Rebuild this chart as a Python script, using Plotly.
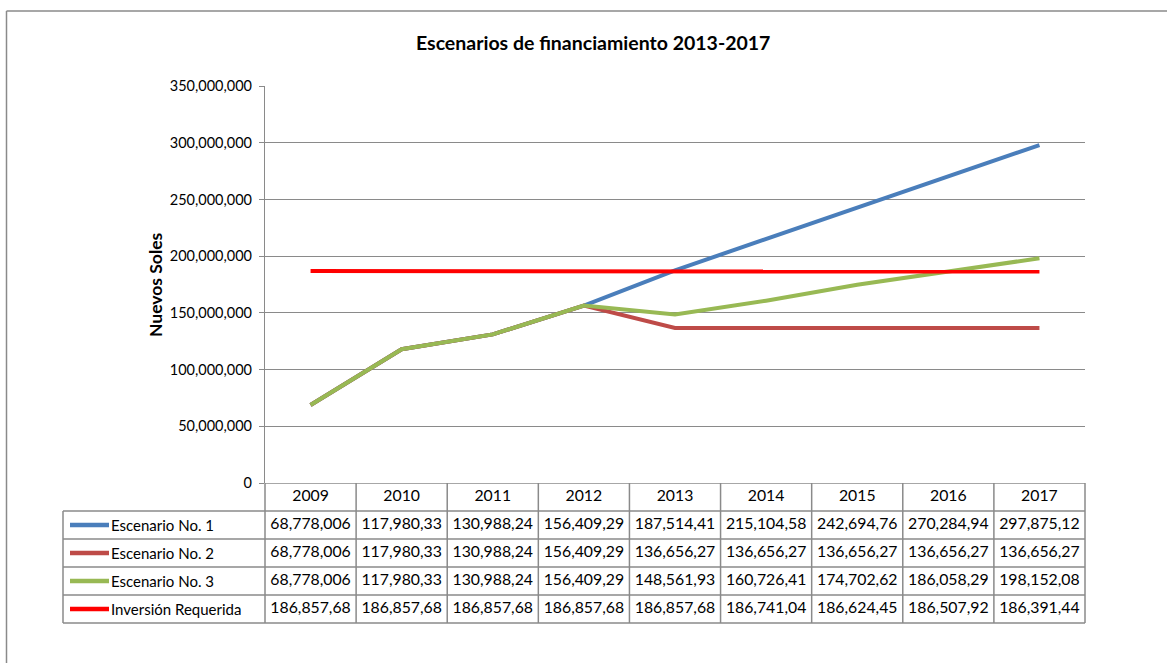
import plotly.graph_objects as go

years = ["2009", "2010", "2011", "2012", "2013", "2014", "2015", "2016", "2017"]
escenario_1 = [68778006, 117980330, 130988240, 156409290, 187514410,
               215104580, 242694760, 270284940, 297875120]
escenario_2 = [68778006, 117980330, 130988240, 156409290, 136656270,
               136656270, 136656270, 136656270, 136656270]
escenario_3 = [68778006, 117980330, 130988240, 156409290, 148561930,
               160726410, 174702620, 186058290, 198152080]
inversion = [186857680, 186857680, 186857680, 186857680, 186857680,
             186741040, 186624450, 186507920, 186391440]
series_names = ["Escenario No. 1", "Escenario No. 2", "Escenario No. 3",
                "Inversión Requerida"]

series = [escenario_1, escenario_2, escenario_3, inversion]
colors = ["#4A7EBB", "#BE4B48", "#98B954", "#FF0000"]
FONT = "Lato, Calibri, sans-serif"
GRID = "#8a8a8a"

# page geometry (pixels)
W, H = 1167, 663
L, R, T, B = 60, 79, 86, 37
plot_left, plot_right, plot_bottom = 265, 1085, 483
table_left, row_h = 63, 28
plot_w, plot_h = W - L - R, H - T - B
unit = (plot_right - plot_left) / len(years)


def px_x(px):
    return (px - L) / plot_w


def px_y(py):
    return (H - B - py) / plot_h


def x2(px):
    # pixel -> table-axis coordinate
    return -0.5 + (px - plot_left) / unit


fig = go.Figure()
for name, vals, col in zip(series_names, series, colors):
    fig.add_trace(go.Scatter(x=years, y=vals, mode="lines", name=name,
                             line=dict(color=col, width=4),
                             xaxis="x", yaxis="y", showlegend=False,
                             hoverinfo="skip"))

# data table text
n = len(years)
tx, ty, tt = [], [], []
for i, yr in enumerate(years):
    tx.append(i)
    ty.append(0.5)
    tt.append(yr)
for r, vals in enumerate(series):
    for i, v in enumerate(vals):
        tx.append(i)
        ty.append(r + 1.5)
        tt.append(f"{v:,.0f}"[:10])
fig.add_trace(go.Scatter(x=tx, y=ty, text=tt, mode="text", xaxis="x2",
                         yaxis="y2", showlegend=False, hoverinfo="skip",
                         textfont=dict(family=FONT, size=15.8, color="#000")))

shapes = []
line_kw = dict(color=GRID, width=1.5)
left_edge = x2(table_left)
# horizontal rules
for r in range(0, len(series) + 2):
    x0 = -0.5 if r == 0 else left_edge
    shapes.append(dict(type="line", xref="x2", yref="y2", x0=x0, x1=n - 0.5,
                       y0=r, y1=r, line=line_kw))
# vertical rules
for k in range(n + 1):
    shapes.append(dict(type="line", xref="x2", yref="y2", x0=k - 0.5,
                       x1=k - 0.5, y0=0, y1=len(series) + 1, line=line_kw))
shapes.append(dict(type="line", xref="x2", yref="y2", x0=left_edge,
                   x1=left_edge, y0=1, y1=len(series) + 1, line=line_kw))
# legend keys
annotations = []
for r, (name, col) in enumerate(zip(series_names, colors)):
    shapes.append(dict(type="line", xref="x2", yref="y2", x0=x2(70), x1=x2(109),
                       y0=r + 1.5, y1=r + 1.5,
                       line=dict(color=col, width=4.5)))
    annotations.append(dict(xref="x2", yref="y2", x=x2(109), y=r + 1.5,
                            text=name, showarrow=False, xanchor="left",
                            font=dict(family=FONT, size=15, color="#000")))

# outer chart border (top and left)
shapes.append(dict(type="line", xref="paper", yref="paper", x0=px_x(6.5),
                   x1=px_x(W + 5), y0=px_y(11), y1=px_y(11),
                   line=dict(color=GRID, width=1.5)))
shapes.append(dict(type="line", xref="paper", yref="paper", x0=px_x(6.5),
                   x1=px_x(6.5), y0=px_y(11), y1=px_y(H + 5),
                   line=dict(color=GRID, width=1.5)))

annotations.append(dict(xref="paper", yref="paper", x=px_x(593), y=px_y(43),
                        text="<b>Escenarios de financiamiento 2013-2017</b>",
                        showarrow=False, xanchor="center", yanchor="middle",
                        font=dict(family=FONT, size=19.5, color="#000")))
annotations.append(dict(xref="paper", yref="paper", x=px_x(155), y=px_y(285),
                        text="<b>Nuevos Soles</b>", textangle=-90,
                        showarrow=False, xanchor="center", yanchor="middle",
                        font=dict(family=FONT, size=17.5, color="#000")))

y_split = px_y(plot_bottom)
fig.update_layout(
    width=W, height=H,
    margin=dict(l=L, r=R, t=T, b=B, pad=0),
    paper_bgcolor="white", plot_bgcolor="white",
    font=dict(family=FONT, color="#000"),
    xaxis=dict(domain=[px_x(plot_left), px_x(plot_right)], range=[-0.5, n - 0.5],
               type="category", anchor="y", showticklabels=False,
               showgrid=False, zeroline=False, showline=False, ticks=""),
    yaxis=dict(domain=[y_split, 1], range=[0, 350e6], dtick=50e6,
               tickformat=",d", showgrid=True, gridcolor=GRID, gridwidth=1.2,
               zeroline=False, showline=True, linecolor=GRID, linewidth=1.2,
               ticks="outside", ticklen=5, tickcolor=GRID,
               ticklabelstandoff=4,
               tickfont=dict(family=FONT, size=14.5, color="#000"),
               anchor="x"),
    xaxis2=dict(domain=[0, 1], range=[x2(L), x2(W - R)], anchor="y2",
                visible=False),
    yaxis2=dict(domain=[0, y_split], range=[(H - B - plot_bottom) / row_h, 0],
                anchor="x2", visible=False),
    shapes=shapes, annotations=annotations,
)

fig.write_html("out.html", config={"displayModeBar": False},
               post_script="document.body.style.margin='0px';")
